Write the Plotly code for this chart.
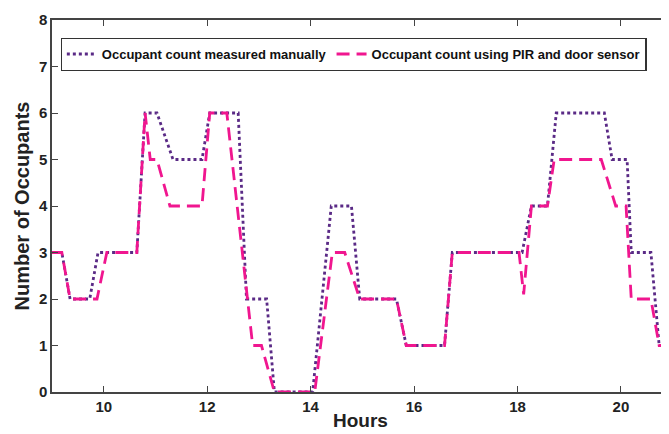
import plotly.graph_objects as go

# Manual occupant count (dotted purple)
manual_x = [9.0, 9.19, 9.35, 9.73, 9.89, 10.64, 10.8, 11.03, 11.34, 11.9, 12.05, 12.6, 12.76, 13.15, 13.3,
            14.04, 14.4, 14.79, 14.95, 15.66, 15.85, 16.59, 16.74, 18.09, 18.27, 18.58, 18.75, 19.68, 19.83,
            20.12, 20.2, 20.58, 20.74, 21.0]
manual_y = [3, 3, 2, 2, 3, 3, 6, 6, 5, 5, 6, 6, 2, 2, 0,
            0, 4, 4, 2, 2, 1, 1, 3, 3, 4, 4, 6, 6, 5,
            5, 3, 3, 1, 1]

# PIR + door sensor count (dashed magenta)
pir_x = [9.0, 9.19, 9.35, 9.73, 9.87, 10.06, 10.64, 10.8, 10.9, 11.03, 11.28, 11.9, 12.05, 12.38, 12.88,
         13.05, 13.3, 14.08, 14.42, 14.66, 14.95, 15.66, 15.85, 16.59, 16.74, 18.03, 18.12, 18.27, 18.58,
         18.71, 19.62, 19.9, 20.1, 20.2, 20.58, 20.74, 21.0]
pir_y = [3, 3, 2, 2, 2, 3, 3, 6, 5, 5, 4, 4, 6, 6, 1,
         1, 0, 0, 3, 3, 2, 2, 1, 1, 3, 3, 2.1, 4, 4,
         5, 5, 4, 4, 2, 2, 1, 1]

y_ticks = [0, 1, 2, 3, 4, 5, 6, 7, 8]
x_ticks = [10, 12, 14, 16, 18, 20]

fig = go.Figure()
fig.add_trace(go.Scatter(x=manual_x, y=manual_y, mode="lines",
                         name="Occupant count measured manually",
                         line=dict(color="#5a2a86", width=2.8, dash="dot")))
fig.add_trace(go.Scatter(x=pir_x, y=pir_y, mode="lines",
                         name="Occupant count using PIR and door sensor",
                         line=dict(color="#f0168f", width=2.8, dash="13px,7px")))

# page body has an 8px margin, so the figure is offset by 8px
fig.update_layout(
    width=661, height=426,
    margin=dict(l=44, r=0, t=12, b=42, autoexpand=False),
    plot_bgcolor="white", paper_bgcolor="white",
    font=dict(family="Liberation Sans, Arial", color="#222", weight="bold"),
    legend=dict(orientation="h", x=0.014, y=0.952, xanchor="left", yanchor="top",
                bordercolor="#333", borderwidth=1.2, bgcolor="white",
                font=dict(size=13, family="Liberation Sans, Arial", color="#111", weight="bold"),
                tracegroupgap=0),
    showlegend=True,
)
fig.update_xaxes(range=[9, 20.93], tickvals=x_ticks, ticks="inside", ticklen=6, tickwidth=1.2,
                 tickcolor="#444", showline=True, linecolor="#444", linewidth=1.5, mirror="ticks",
                 showgrid=False, zeroline=False,
                 tickfont=dict(size=15, weight="bold", color="#222"),
                 title=dict(text="Hours", font=dict(size=19, weight="bold", color="#222"), standoff=0))
fig.update_yaxes(range=[0, 8], tickvals=y_ticks, ticks="inside", ticklen=6, tickwidth=1.2,
                 tickcolor="#444", showline=True, linecolor="#444", linewidth=1.5, mirror="ticks",
                 showgrid=False, zeroline=False,
                 tickfont=dict(size=15, weight="bold", color="#222"),
                 title=dict(text="Number of Occupants", font=dict(size=20, weight="bold", color="#222"), standoff=4))

fig.write_html("out.html")
